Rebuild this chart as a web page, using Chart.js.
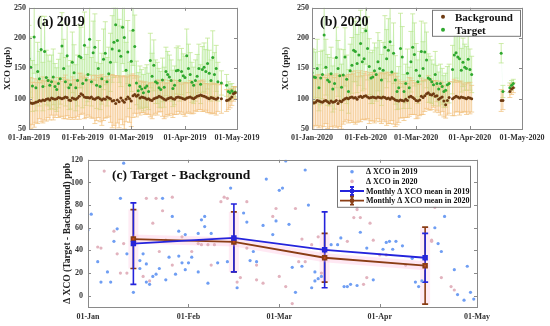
<!DOCTYPE html>
<html>
<head>
<meta charset="utf-8">
<script src="https://cdn.jsdelivr.net/npm/chart.js@4.4.1/dist/chart.umd.min.js"></script>
<style>
  body { margin: 0; background: #fff; width: 550px; height: 326px; position: relative; overflow: hidden; }
  canvas { position: absolute; }
</style>
</head>
<body>
<canvas id="c2019" width="265" height="150" style="left:0;top:0"></canvas>
<canvas id="c2020" width="275" height="150" style="left:275px;top:0"></canvas>
<canvas id="cdiff" width="500" height="176" style="left:0;top:150px"></canvas>
<script>
// ---- panel (a) 2019, one value per day from 01-Jan (day 0)
const bg2019 = [
  96, 93, 92, 93, 94, 95, 97, 96, 98, 97,
  99, 100, 98, 101, 100, 99, 100, 102, 101, 100,
  101, 103, 102, 98, 97, 101, 100, 99, 101, 104,
  108, 106, 103, 102, 102, 101, 103, 100, 99, 101,
  102, 100, 98, 100, 99, 103, 101, 100, 96, 97,
  92, 98, 95, 101, 97, 94, 99, 103, 100, 96,
  105, 107, 104, 106, 101, 103, 102, 101, 99, 100,
  98, 97, 100, 101, 102, 104, 103, 101, 99, 98,
  100, 101, 102, 100, 99, 102, 103, 102, 101, 100,
  99, 101, 102, 103, 101, 100, 102, 104, 105, 106,
  105, 104, 103, 101, 100, 102, 101, 100, 99, 101,
  null, 100, null, null, 97, 98, 100, 103, 108, 110
];
const bgErr2019 = [
  38, 42, 35, 40, 33, 36, 30, 34, 38, 32,
  36, 31, 33, 28, 35, 30, 27, 33, 31, 29,
  34, 36, 30, 32, 28, 35, 31, 33, 30, 38,
  34, 30, 36, 33, 29, 31, 35, 32, 40, 37,
  33, 38, 42, 36, 31, 34, 30, 39, 44, 41,
  46, 38, 43, 35, 40, 44, 37, 33, 39, 42,
  36, 31, 34, 30, 28, 26, 25, 27, 24, 26,
  28, 30, 27, 25, 29, 26, 24, 30, 32, 28,
  26, 29, 27, 31, 25, 28, 24, 27, 23, 26,
  28, 25, 24, 27, 26, 24, 22, 25, 23, 24,
  26, 25, 22, 24, 23, 27, 25, 24, 26, 22,
  null, 24, null, null, 18, 16, 15, 14, 12, 10
];
const tg2019 = [
  166, 152, 121, 202, 118, 145, 133, 181, 120, 178,
  135, 130, 122, 128, 136, 120, 115, 125, 133, 187,
  150, 128, 171, 118, 123, 160, 143, 118, 130, 170,
  168, 125, 188, 131, 140, 198, 128, 176, 185, 122,
  150, 120, 133, 165, 175, 128, 141, 160, 182, 193,
  222, 196, 179, 170, 218, 201, 147, 177, 122, 162,
  213, 186, 126, 113, 120, 116, 110, 118, 121, 112,
  163, 137, 155, 128, 126, 118, 115, 131, 119, 145,
  140, 136, 130, 117, 122, 146, 147, 130, 145, 138,
  135, 171, 150, 140, 127, 122, 130, 137, 150, 124,
  148, 152, 145, 158, 142, 130, 168, 140, 150, 128,
  null, 126, null, null, 122, 112, 110, 113, 110, 111
];
const tgErr2019 = [
  55, 50, 42, 60, 38, 48, 45, 55, 40, 58,
  45, 42, 40, 44, 46, 38, 36, 40, 42, 55,
  48, 40, 52, 36, 40, 50, 46, 38, 42, 52,
  50, 40, 55, 42, 45, 58, 40, 52, 55, 38,
  46, 38, 42, 50, 52, 40, 44, 48, 55, 58,
  62, 58, 52, 50, 60, 56, 46, 52, 38, 50,
  58, 52, 36, 30, 34, 32, 30, 33, 35, 30,
  45, 38, 42, 36, 34, 32, 30, 36, 33, 40,
  38, 36, 34, 30, 32, 38, 40, 34, 38, 36,
  35, 44, 40, 36, 33, 30, 34, 36, 40, 32,
  38, 40, 36, 42, 38, 34, 44, 36, 38, 32,
  null, 20, null, null, 18, 16, 14, 12, 10, 8
];

// ---- panel (b) 2020
const bg2020 = [
  95, 93, 94, 97, 96, 95, 94, 96, 97, 95,
  93, 96, 94, 95, 97, 92, 96, 95, 98, 100,
  101, 100, 102, 103, 101, 102, 99, 103, 104, 102,
  104, 105, 103, 101, 102, 103, 102, 101, 103, 102,
  101, 103, 102, 100, 101, 99, 102, 100, 98, 97,
  96, 98, 97, 96, 99, 97, 103, 104, 102, 100,
  97, 96, 98, 104, 102, 105, 108, 110, 107, 106,
  108, 104, 105, 99, 101, 103, 96, 90, 97, 102,
  null, 100, 102, 104, 103, 101, 103, 102, 101, 100,
  102, 101, 100, null, null, null, null, null, null, null,
  null, null, null, null, null, null, null, null, null, 97,
  97, null, null, null, 112, 116, 118, null, null, null,
  null, null
];
const bgErr2020 = [
  40, 45, 38, 42, 44, 40, 46, 42, 38, 44,
  48, 42, 45, 40, 44, 46, 42, 45, 40, 38,
  36, 40, 38, 42, 40, 44, 38, 40, 42, 36,
  38, 40, 36, 42, 38, 40, 42, 38, 36, 40,
  42, 38, 40, 44, 42, 40, 38, 42, 44, 40,
  35, 30, 28, 32, 30, 28, 32, 30, 28, 26,
  30, 28, 26, 30, 28, 26, 24, 28, 26, 24,
  22, 26, 24, 22, 28, 24, 26, 22, 24, 26,
  null, 28, 30, 26, 24, 28, 26, 24, 22, 26,
  24, 26, 22, null, null, null, null, null, null, null,
  null, null, null, null, null, null, null, null, null, 18,
  15, null, null, null, 10, 9, 8, null, null, null,
  null, null
];
const tg2020 = [
  143, 136, 135, 150, 118, 134, 140, 205, 152, 131,
  128, 141, 116, 125, 168, 150, 138, 119, 139, 169,
  132, 112, 146, 155, 180, 178, 158, 172, 191, 161,
  166, 212, 183, 153, 134, 136, 146, 140, 161, 150,
  131, 147, 185, 166, 180, 194, 144, 175, 131, 112,
  118, 183, 169, 112, 125, 142, 118, 161, 185, 173,
  147, 128, 138, 178, 150, 177, 164, 134, 132, 128,
  123, 140, 125, 116, 125, 120, 112, 114, 123, 125,
  null, 148, 172, 176, 169, 166, 147, 160, 152, 150,
  165, 148, 140, null, null, null, null, null, null, null,
  null, null, null, null, null, null, null, null, null, 175,
  112, null, null, null, 118, 122, 125, null, null, null,
  null, null
];
const tgErr2020 = [
  40, 45, 42, 48, 38, 44, 40, 55, 46, 42,
  40, 44, 38, 42, 50, 46, 44, 38, 42, 48,
  40, 36, 44, 46, 52, 50, 48, 50, 55, 48,
  50, 55, 52, 46, 42, 44, 46, 44, 48, 46,
  42, 46, 52, 48, 52, 55, 44, 50, 40, 30,
  35, 58, 50, 28, 32, 40, 34, 50, 55, 52,
  44, 36, 40, 50, 44, 48, 46, 40, 38, 36,
  34, 38, 30, 28, 32, 30, 26, 28, 30, 32,
  null, 40, 45, 42, 40, 38, 36, 40, 38, 36,
  38, 34, 30, null, null, null, null, null, null, null,
  null, null, null, null, null, null, null, null, null, 16,
  10, null, null, null, 8, 8, 7, null, null, null,
  null, null
];

const tickDays2019 = [0, 31, 59, 90, 120];
const tickLabels2019 = ['01-Jan-2019', '01-Feb-2019', '01-Mar-2019', '01-Apr-2019', '01-May-2019'];
const tickDays2020 = [0, 31, 60, 91, 121];
const tickLabels2020 = ['01-Jan-2020', '01-Feb-2020', '01-Mar-2020', '01-Apr-2020', '01-May-2020'];
const xcoTicks = [50, 100, 150, 200, 250];

// ---- panel (c) target - background, [day, value]
const diff2019 = [
  [11,117],[1,72],[10,86],[0,58],[9,59],[8,48],[3,30],[6,21],[4,12],[7,12],[12,37],[14,3],
  [17,37],[16,31],[18,28],[16,24],[18,12],[19,10],[20,17],[21,19],[22,24],[24,14],[23,86],
  [26,70],[25,34],[27,19],[28,57],[28,35],[29,29],[30,23],[30,54],[31,29],[32,34],[34,21],
  [34,55],[35,67],[36,70],[36,61],[38,55],[37,11],[40,29],[61,119],[67,111],[44,95],[55,103],
  [59,93],[60,95],[68,80],[48,73],[49,65],[58,66],[54,62],[57,54],[62,63],[51,39],[52,30],
  [50,31],[43,30],[66,26],[63,25],[64,3],[46,7],[69,7],[70,13],[71,15],[72,17],[75,45],
  [77,45],[78,51],[79,8],[80,8],[70,21],[96,70],[110,70],[84,56],[92,47],[93,48],[95,48],
  [97,44],[86,42],[91,41],[94,41],[100,33],[107,60],[108,46],[109,39],[113,23],[117,26],
  [114,1],[116,-4],[118,3],[119,-3],[81,10],[83,9],[88,14],[101,12],[102,8],[103,13]
];
const diff2020 = [
  [5,110],[3,43],[4,42],[9,37],[10,20],[12,20],[11,46],[8,57],[21,86],[23,75],[26,87],
  [18,86],[20,64],[22,39],[24,49],[29,52],[32,39],[34,46],[17,17],[19,13],[26,27],[35,45],
  [37,45],[39,45],[38,27],[42,87],[43,86],[41,83],[49,83],[58,77],[64,77],[57,70],[66,50],
  [71,52],[69,45],[65,30],[67,30],[52,27],[47,16],[46,12],[52,14],[54,11],[59,17],[63,-7],
  [61,8],[72,20],[49,42],[82,69],[84,69],[87,64],[83,78],[80,48],[88,49],[106,49],[106,48],
  [107,78],[98,27],[109,16],[112,8],[113,5],[86,16],[85,10],[90,36],[92,36],[83,76]
];
const meanDays = [14, 45, 73, 104];
const mean2019 = [46, 51, 40.5, 33.5];
const sd2019 = [36, 30, 33.5, 21.5];
const mean2020 = [50, 47.5, 33.5, 26.5];
const sd2020 = [26, 26.5, 21.5, 34];
const tickDaysDiff = [0, 31, 59, 90, 120];
const tickLabelsDiff = ['01-Jan', '01-Feb', '01-Mar', '01-Apr', '01-May'];
const diffTicks = [0, 20, 40, 60, 80, 100, 120];

const serif = 'Liberation Serif';
const pts = vals => vals.map((v, i) => ({ x: i, y: v }));
const shifted = (vals, errs, s) => vals.map((v, i) => ({ x: i, y: v == null ? null : v + s * errs[i] }));

// error bars drawn from dataset values through the y scale
const errorBars = {
  id: 'errorBars',
  beforeDatasetsDraw(chart, args, opts) {
    const { ctx, chartArea: a, scales: { y } } = chart;
    ctx.save();
    ctx.beginPath();
    ctx.rect(a.left, a.top, a.right - a.left, a.bottom - a.top);
    ctx.clip();
    const sets = opts.sets || [];
    const each = (s, fn) => {
      const meta = chart.getDatasetMeta(s.index);
      const data = chart.data.datasets[s.index].data;
      meta.data.forEach((p, i) => {
        const v = data[i].y, e = s.err[i];
        if (v == null || e == null) return;
        fn(p.x, y.getPixelForValue(v + e), y.getPixelForValue(v - e));
      });
    };
    sets.filter(s => s.band).forEach(s => each(s, (x, t, b) => {
      ctx.fillStyle = s.band;
      ctx.fillRect(x - 5, t, 10, b - t);
    }));
    sets.forEach(s => {
      ctx.strokeStyle = s.color;
      ctx.lineWidth = s.width;
      ctx.beginPath();
      each(s, (x, t, b) => {
        ctx.moveTo(x, t); ctx.lineTo(x, b);
        ctx.moveTo(x - s.cap, t); ctx.lineTo(x + s.cap, t);
        ctx.moveTo(x - s.cap, b); ctx.lineTo(x + s.cap, b);
      });
      ctx.stroke();
    });
    ctx.restore();
  }
};

// matlab style box with inward ticks
const boxPlugin = {
  id: 'box',
  afterDatasetsDraw(chart) {
    const { ctx, chartArea: a, scales } = chart;
    ctx.save();
    ctx.strokeStyle = '#8a8a8a';
    ctx.lineWidth = 1;
    ctx.strokeRect(Math.round(a.left) + 0.5, Math.round(a.top) + 0.5, Math.round(a.right - a.left), Math.round(a.bottom - a.top));
    ctx.beginPath();
    scales.x.ticks.forEach(t => {
      const x = Math.round(scales.x.getPixelForValue(t.value)) + 0.5;
      ctx.moveTo(x, a.bottom); ctx.lineTo(x, a.bottom - 3);
      ctx.moveTo(x, a.top); ctx.lineTo(x, a.top + 3);
    });
    scales.y.ticks.forEach(t => {
      const y = Math.round(scales.y.getPixelForValue(t.value)) + 0.5;
      ctx.moveTo(a.left, y); ctx.lineTo(a.left + 3, y);
      ctx.moveTo(a.right, y); ctx.lineTo(a.right - 3, y);
    });
    ctx.stroke();
    ctx.restore();
  }
};

function xcoChart(id, bg, bgErr, tg, tgErr, maxDay, tickDays, tickLabels, padLeft, yWidth, title, withLegend) {
  const legendPlugin = {
    id: 'deco',
    afterDraw(chart) {
      const { ctx, chartArea: a } = chart;
      ctx.save();
      ctx.fillStyle = '#111';
      ctx.font = 'bold 14px "' + serif + '"';
      ctx.textBaseline = 'middle';
      ctx.fillText(title, a.left + 8, a.top + 15);
      if (withLegend) {
        const bx = a.right - 90, by = a.top + 2;
        ctx.fillStyle = '#fff';
        ctx.fillRect(bx, by, 88, 26);
        ctx.strokeStyle = '#777';
        ctx.strokeRect(bx + 0.5, by + 0.5, 88, 26);
        ctx.font = 'bold 11px "' + serif + '"';
        [['Background', '#6e3b12'], ['Target', '#2fa82f']].forEach(([t, c], i) => {
          const yy = by + 7 + i * 13;
          ctx.fillStyle = c;
          ctx.beginPath(); ctx.arc(bx + 11, yy, 2, 0, Math.PI * 2); ctx.fill();
          ctx.fillStyle = '#111';
          ctx.fillText(t, bx + 23, yy + 1);
        });
      }
      ctx.restore();
    }
  };
  return new Chart(document.getElementById(id), {
    type: 'line',
    data: {
      datasets: [
        { label: 'Background', data: pts(bg), showLine: false, pointRadius: 1.5, pointBackgroundColor: '#6e3b12', pointBorderWidth: 0, order: 0 },
        { label: 'Target', data: pts(tg), showLine: false, pointRadius: 1.5, pointBackgroundColor: '#2fa82f', pointBorderWidth: 0, order: 1 },
        { data: shifted(bg, bgErr, -1), borderWidth: 0, pointRadius: 0, fill: false, order: 9 },
        { data: shifted(bg, bgErr, 1), borderWidth: 0, pointRadius: 0, fill: '-1', backgroundColor: 'rgba(255,180,110,0.13)', order: 9 },
        { data: shifted(tg, tgErr, -1), borderWidth: 0, pointRadius: 0, fill: false, order: 9 },
        { data: shifted(tg, tgErr, 1), borderWidth: 0, pointRadius: 0, fill: '-1', backgroundColor: 'rgba(130,235,160,0.12)', order: 9 }
      ]
    },
    options: {
      responsive: false,
      animation: false,
      devicePixelRatio: 1,
      layout: { padding: { left: padLeft, top: 7, right: 28, bottom: 0 } },
      plugins: {
        legend: { display: false },
        tooltip: { enabled: false },
        errorBars: { sets: [
          { index: 1, err: tgErr, color: 'rgba(190,230,140,0.75)', width: 1, cap: 2.5 },
          { index: 0, err: bgErr, color: 'rgba(240,195,130,0.75)', width: 1, cap: 2.5 }
        ] }
      },
      scales: {
        x: {
          type: 'linear', min: 0, max: maxDay,
          grid: { display: false, drawTicks: false }, border: { display: false },
          afterBuildTicks: s => { s.ticks = tickDays.map(v => ({ value: v })); },
          afterFit: s => { s.height = 21; },
          ticks: { autoSkip: false, maxRotation: 0, padding: 4, color: '#333', font: { family: serif, size: 8, weight: 'bold' },
                   callback: (v, i) => tickLabels[i] }
        },
        y: {
          min: 50, max: 250,
          grid: { display: false, drawTicks: false }, border: { display: false },
          afterBuildTicks: s => { s.ticks = xcoTicks.map(v => ({ value: v })); },
          afterFit: s => { s.width = yWidth; },
          title: { display: true, text: 'XCO (ppb)', color: '#222', padding: { top: 2, bottom: 0 }, font: { family: serif, size: 9, weight: 'bold' } },
          ticks: { padding: 3, color: '#333', font: { family: serif, size: 8, weight: 'bold' } }
        }
      }
    },
    plugins: [errorBars, boxPlugin, legendPlugin]
  });
}

xcoChart('c2019', bg2019, bgErr2019, tg2019, tgErr2019, 120, tickDays2019, tickLabels2019, 0, 29, '(a) 2019', false);
xcoChart('c2020', bg2020, bgErr2020, tg2020, tgErr2020, 121, tickDays2020, tickLabels2020, 3, 34, '(b) 2020', true);

// ---- panel (c)
const diffDeco = {
  id: 'diffDeco',
  afterDraw(chart) {
    const { ctx, chartArea: a } = chart;
    ctx.save();
    ctx.fillStyle = '#111';
    ctx.textBaseline = 'middle';
    ctx.font = 'bold 13.5px "' + serif + '"';
    ctx.fillText('(c) Target - Background', a.left + 24, a.top + 16);
    const bx = a.right - 140, by = a.top + 6, bw = 133, bh = 41;
    ctx.fillStyle = '#fff';
    ctx.fillRect(bx, by, bw, bh);
    ctx.strokeStyle = '#777';
    ctx.lineWidth = 1;
    ctx.strokeRect(bx + 0.5, by + 0.5, bw, bh);
    ctx.font = 'bold 8px "' + serif + '"';
    const rows = [
      ['\u0394 XCO in 2019', '#6b9cf5', false],
      ['\u0394 XCO in 2020', '#e2b3be', false],
      ['Monthly \u0394 XCO mean in 2019', '#2424dc', true],
      ['Monthly \u0394 XCO mean in 2020', '#8a3d14', true]
    ];
    rows.forEach(([t, c, line], i) => {
      const yy = by + 6 + i * 9.6, cx = bx + 15;
      if (line) {
        ctx.strokeStyle = c;
        ctx.lineWidth = 1.8;
        ctx.beginPath();
        ctx.moveTo(bx + 3, yy); ctx.lineTo(bx + 27, yy);
        ctx.moveTo(cx, yy - 4); ctx.lineTo(cx, yy + 4);
        ctx.moveTo(cx - 2, yy - 4); ctx.lineTo(cx + 2, yy - 4);
        ctx.moveTo(cx - 2, yy + 4); ctx.lineTo(cx + 2, yy + 4);
        ctx.stroke();
        ctx.fillStyle = c;
        ctx.fillRect(cx - 2, yy - 2, 4, 4);
      } else {
        ctx.fillStyle = c;
        ctx.beginPath(); ctx.arc(cx, yy, 1.8, 0, Math.PI * 2); ctx.fill();
      }
      ctx.fillStyle = '#111';
      ctx.fillText(t, bx + 29, yy + 0.5);
    });
    ctx.restore();
  }
};

new Chart(document.getElementById('cdiff'), {
  type: 'line',
  data: {
    datasets: [
      { label: 'Monthly \u0394 XCO mean in 2019', data: meanDays.map((d, i) => ({ x: d, y: mean2019[i] })),
        borderColor: '#2424dc', borderWidth: 1.8, pointStyle: 'rect', pointRadius: 2.6,
        pointBackgroundColor: '#3a22c8', pointBorderColor: '#2424dc', order: 0 },
      { label: 'Monthly \u0394 XCO mean in 2020', data: meanDays.map((d, i) => ({ x: d, y: mean2020[i] })),
        borderColor: '#8a3d14', borderWidth: 1.8, pointStyle: 'rect', pointRadius: 2.6,
        pointBackgroundColor: '#c8481e', pointBorderColor: '#8a3d14', order: 1 },
      { label: '\u0394 XCO in 2019', data: diff2019.map(([x, y]) => ({ x, y })), showLine: false,
        pointRadius: 1.6, pointBackgroundColor: '#6f9ef3', pointBorderWidth: 0, order: 3 },
      { label: '\u0394 XCO in 2020', data: diff2020.map(([x, y]) => ({ x, y })), showLine: false,
        pointRadius: 1.6, pointBackgroundColor: '#e2b3be', pointBorderWidth: 0, order: 4 },
      { data: meanDays.map((d, i) => ({ x: d, y: mean2020[i] })), borderColor: 'rgba(255,180,215,0.3)',
        borderWidth: 9, pointRadius: 0, order: 8 }
    ]
  },
  options: {
    responsive: false,
    animation: false,
    devicePixelRatio: 1,
    layout: { padding: { left: 60, top: 9, right: 23, bottom: 0 } },
    plugins: {
      legend: { display: false },
      tooltip: { enabled: false },
      errorBars: { sets: [
        { index: 1, err: sd2020, color: '#8a3d14', width: 1.6, cap: 3, band: 'rgba(255,180,215,0.25)' },
        { index: 0, err: sd2019, color: '#2424dc', width: 1.6, cap: 3 }
      ] }
    },
    scales: {
      x: {
        type: 'linear', min: 0, max: 120,
        grid: { display: false, drawTicks: false }, border: { display: false },
        afterBuildTicks: s => { s.ticks = tickDaysDiff.map(v => ({ value: v })); },
        afterFit: s => { s.height = 19; },
        ticks: { autoSkip: false, maxRotation: 0, padding: 5, color: '#333', font: { family: serif, size: 8, weight: 'bold' },
                 callback: (v, i) => tickLabelsDiff[i] }
      },
      y: {
        min: -10, max: 120,
        grid: { display: false, drawTicks: false }, border: { display: false },
        afterBuildTicks: s => { s.ticks = diffTicks.map(v => ({ value: v })); },
        afterFit: s => { s.width = 28; },
        title: { display: true, text: '\u0394 XCO (Target - Background) ppb', color: '#222', padding: { top: 2, bottom: 0 },
                 font: { family: serif, size: 9.5, weight: 'bold' } },
        ticks: { padding: 5, color: '#333', font: { family: serif, size: 8, weight: 'bold' } }
      }
    }
  },
  plugins: [errorBars, boxPlugin, diffDeco]
});
</script>
</body>
</html>
